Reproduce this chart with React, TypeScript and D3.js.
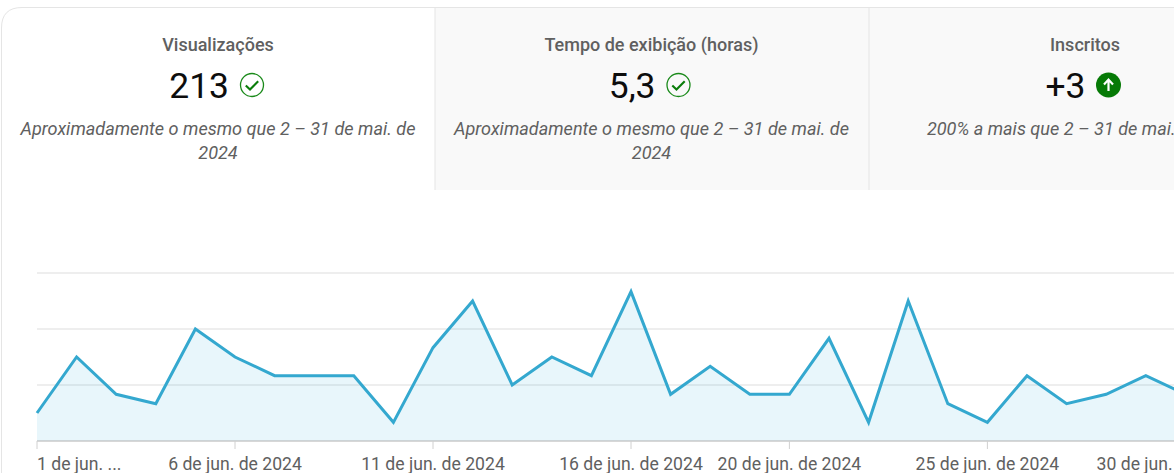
import React from "react";
import * as d3 from "d3";

const days = d3.range(1, 31);
const views = [3, 9, 5, 4, 12, 9, 7, 7, 7, 2, 10, 15, 6, 9, 7, 16, 5, 8, 5, 5, 11, 2, 15, 4, 2, 7, 4, 5, 7, 5];
const gridValues = [6, 12, 18];
const tickDays = [1, 6, 11, 16, 20, 25, 30];
const tickLabels = ["1 de jun. ...", "6 de jun. de 2024", "11 de jun. de 2024", "16 de jun. de 2024", "20 de jun. de 2024", "25 de jun. de 2024", "30 de jun. de 2024"];
const tabTitles = ["Visualizações", "Tempo de exibição (horas)", "Inscritos"];
const tabValues = ["213", "5,3", "+3"];
const tabNotes = [
  ["Aproximadamente o mesmo que 2 – 31 de mai. de", "2024"],
  ["Aproximadamente o mesmo que 2 – 31 de mai. de", "2024"],
  ["200% a mais que 2 – 31 de mai. de 2024"],
];
const tabIcons = ["check", "check", "up"];

const FONT = "Roboto, sans-serif";
const GREY = "#606060";
const BORDER = "#e5e5e5";
const tabW = 434;
const tabLeft = 1;
const tabTop = 8;
const tabBottom = 190;

const x = d3.scaleLinear().domain([1, 30]).range([37, 1185.4]);
const y = d3.scaleLinear().domain([0, 18]).range([441, 273]);

const line = d3.line<number>().x((_, i) => x(days[i])).y((d) => y(d));
const area = d3.area<number>().x((_, i) => x(days[i])).y0(y(0)).y1((d) => y(d));

function labelProps(i: number) {
  if (i === 0) return { x: x(tickDays[i]), anchor: "start" };
  if (i === tickDays.length - 1) return { x: x(tickDays[i]) - 17, anchor: "middle" };
  return { x: x(tickDays[i]), anchor: "middle" };
}

function Icon({ kind, cx, cy }: { kind: string; cx: number; cy: number }) {
  if (kind === "check") {
    return (
      <g transform={`translate(${cx},${cy})`}>
        <circle r={11.5} fill="none" stroke="#1a8a1a" strokeWidth={1.3} />
        <path d="M-6.2,0.4 L-2,4.6 L6.2,-3.8" fill="none" stroke="#0a7d0a" strokeWidth={2.1} />
      </g>
    );
  }
  return (
    <g transform={`translate(${cx},${cy})`}>
      <circle r={12.5} fill="#067a06" />
      <path d="M0,6 L0,-5 M-4.5,-0.6 L0,-5.4 L4.5,-0.6" fill="none" stroke="#fff" strokeWidth={2.2} />
    </g>
  );
}

export default function App() {
  const iconX = [252, 678.5, 1108.5];
  return (
    <svg
      width={1174}
      height={473}
      viewBox="0 0 1174 473"
      style={{ position: "absolute", left: 0, top: 0, display: "block", background: "#fff" }}
      fontFamily={FONT}
    >
      {/* tabs */}
      <rect x={tabLeft + tabW} y={tabTop} width={tabW} height={tabBottom - tabTop} fill="#f9f9f9" />
      <rect x={tabLeft + 2 * tabW} y={tabTop} width={tabW} height={tabBottom - tabTop} fill="#f9f9f9" />
      <path
        d={`M1.5,${tabBottom + 300} L1.5,28 Q1.5,7.5 22,7.5 L1174,7.5`}
        fill="none"
        stroke={BORDER}
        strokeWidth={1}
      />
      <line x1={435} x2={435} y1={8} y2={tabBottom} stroke={BORDER} strokeWidth={1} />
      <line x1={869} x2={869} y1={8} y2={tabBottom} stroke={BORDER} strokeWidth={1} />
      {tabTitles.map((t, i) => {
        const cx = [218, 651.5, 1085][i];
        return (
          <g key={t}>
            <text x={cx} y={51} textAnchor="middle" fontSize={18} fontWeight={500} fill={GREY}>
              {t}
            </text>
            <text x={iconX[i] - 23} y={98} textAnchor="end" fontSize={35.4} fill="#0d0d0d">
              {tabValues[i]}
            </text>
            <Icon kind={tabIcons[i]} cx={iconX[i]} cy={85} />
            {tabNotes[i].map((n, k) => (
              <text key={k} x={cx} y={135 + k * 23.5} textAnchor="middle" fontSize={18.08} fontStyle="italic" fill={GREY}>
                {n}
              </text>
            ))}
          </g>
        );
      })}

      {/* grid */}
      {gridValues.map((v) => (
        <line key={v} x1={37} x2={1174} y1={y(v)} y2={y(v)} stroke="#e8e8e8" strokeWidth={1.5} />
      ))}

      {/* series */}
      <path d={area(views) ?? ""} fill="#2eaadc" fillOpacity={0.11} />
      <line x1={37} x2={1174} y1={y(0)} y2={y(0)} stroke="#b0b0b0" strokeWidth={1} />
      <path d={line(views) ?? ""} fill="none" stroke="#34a8cf" strokeWidth={3} strokeLinejoin="miter" />

      {/* axis */}
      {tickDays.map((d, i) => {
        const p = labelProps(i);
        return (
          <g key={d}>
            <line x1={x(d)} x2={x(d)} y1={y(0)} y2={449} stroke="#d0d0d0" strokeWidth={1} />
            <text x={p.x} y={470} textAnchor={p.anchor} fontSize={17.6} fill={GREY}>
              {tickLabels[i]}
            </text>
          </g>
        );
      })}
    </svg>
  );
}
